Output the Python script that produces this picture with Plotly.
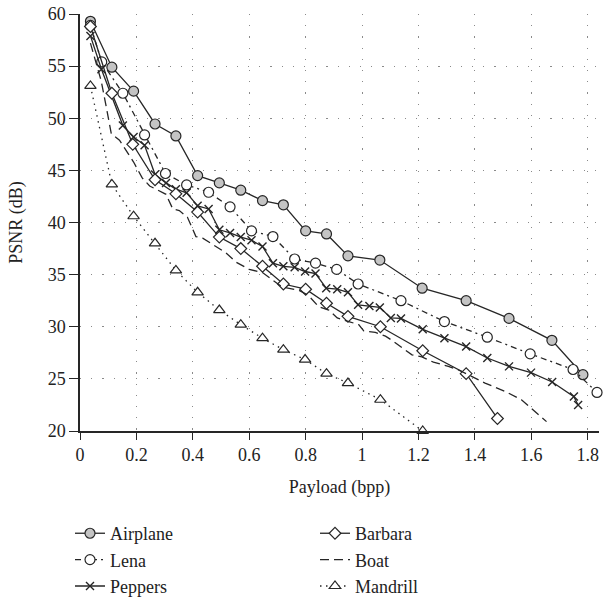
import plotly.graph_objects as go

# ---- data ----
airplane_x = [0.037, 0.113, 0.19, 0.266, 0.34, 0.417, 0.494, 0.57, 0.647, 0.721, 0.80, 0.874, 0.95, 1.063, 1.213, 1.369, 1.521, 1.673, 1.783]
airplane_y = [59.3, 54.9, 52.6, 49.45, 48.3, 44.5, 43.8, 43.1, 42.1, 41.7, 39.2, 38.9, 36.8, 36.4, 33.7, 32.5, 30.8, 28.7, 25.4]

lena_x = [0.037, 0.077, 0.152, 0.229, 0.303, 0.378, 0.456, 0.532, 0.608, 0.684, 0.761, 0.835, 0.91, 0.986, 1.138, 1.292, 1.444, 1.596, 1.748, 1.833]
lena_y = [58.9, 55.4, 52.4, 48.4, 44.7, 43.6, 42.9, 41.5, 39.2, 38.65, 36.5, 36.1, 35.5, 34.1, 32.5, 30.5, 29.0, 27.4, 25.9, 23.7]

peppers_x = [0.037, 0.076, 0.152, 0.19, 0.229, 0.266, 0.305, 0.34, 0.378, 0.417, 0.456, 0.494, 0.532, 0.57, 0.608, 0.647,
             0.684, 0.721, 0.761, 0.798, 0.835, 0.873, 0.912, 0.95, 0.986, 1.026, 1.063, 1.102, 1.138, 1.215, 1.292,
             1.369, 1.444, 1.521, 1.599, 1.674, 1.751, 1.766]
peppers_y = [57.9, 54.7, 49.3, 48.2, 47.4, 44.6, 43.8, 43.2, 42.85, 41.6, 41.3, 39.3, 39.0, 38.6, 38.3, 37.7,
             36.1, 35.8, 35.7, 35.3, 35.1, 33.7, 33.6, 33.3, 32.1, 32.0, 31.85, 30.85, 30.8, 29.75, 28.9,
             28.1, 27.0, 26.2, 25.6, 24.7, 23.3, 22.5]

barbara_x = [0.037, 0.113, 0.187, 0.266, 0.34, 0.417, 0.494, 0.57, 0.647, 0.721, 0.80, 0.874, 0.95, 1.065, 1.215, 1.369, 1.48]
barbara_y = [58.8, 52.4, 47.5, 44.1, 42.75, 41.0, 38.6, 37.5, 35.8, 34.1, 33.6, 32.25, 31.0, 30.0, 27.7, 25.5, 21.2]

boat_x = [0.037, 0.075, 0.093, 0.111, 0.14, 0.19, 0.22, 0.247, 0.305, 0.329, 0.352, 0.381, 0.411, 0.435, 0.517, 0.553,
          0.60, 0.647, 0.717, 0.776, 0.81, 0.847, 0.882, 0.912, 0.953, 0.988, 1.006, 1.047, 1.083, 1.106, 1.141,
          1.177, 1.212, 1.253, 1.306, 1.342, 1.436, 1.507, 1.565, 1.613, 1.654]
boat_y = [57.2, 53.6, 51.1, 48.5, 47.9, 45.8, 44.3, 43.5, 42.7, 41.3, 41.15, 40.5, 38.65, 38.5, 37.1, 36.2,
          35.5, 35.2, 33.8, 33.5, 33.0, 31.9, 31.6, 30.85, 30.5, 30.2, 29.6, 29.45, 29.1, 28.7, 28.0,
          27.3, 27.1, 26.6, 26.2, 25.85, 24.6, 23.8, 23.0, 21.9, 20.9]

mandrill_x = [0.037, 0.113, 0.19, 0.266, 0.34, 0.417, 0.494, 0.57, 0.647, 0.721, 0.798, 0.874, 0.95, 1.065, 1.215]
mandrill_y = [53.1, 43.65, 40.6, 38.0, 35.4, 33.3, 31.6, 30.2, 28.9, 27.8, 26.85, 25.5, 24.6, 23.0, 20.0]

x_ticks = [0, 0.2, 0.4, 0.6, 0.8, 1, 1.2, 1.4, 1.6, 1.8]
x_tick_text = ["0", "0.2", "0.4", "0.6", "0.8", "1", "1.2", "1.4", "1.6", "1.8"]
y_ticks = [20, 25, 30, 35, 40, 45, 50, 55, 60]

FONT = "Liberation Serif"
FS = 18
LC = "#262626"

fig = go.Figure()

def add(name, x, y, dash, symbol, fill, size, legend, mlw=1.2):
    fig.add_trace(go.Scatter(
        x=x, y=y, name=name, mode="lines+markers" if symbol else "lines",
        line=dict(color=LC, width=1.3, dash=dash),
        marker=dict(symbol=symbol or "circle", size=size, color=fill,
                    line=dict(color=LC, width=mlw)),
        legend=legend, showlegend=True, cliponaxis=False))

add("Airplane", airplane_x, airplane_y, "solid", "circle", "#c4c4c4", 10, "legend")
add("Lena", lena_x, lena_y, "6px,4px,2px,4px", "circle", "white", 10, "legend2")
add("Peppers", peppers_x, peppers_y, "solid", "x-thin", LC, 8, "legend3", 1.4)
add("Barbara", barbara_x, barbara_y, "solid", "diamond", "white", 9, "legend4")
add("Boat", boat_x, boat_y, "9px,5px", None, LC, 6, "legend5")
add("Mandrill", mandrill_x, mandrill_y, "1.5px,4.5px", "triangle-up", "white", 10, "legend6")

W, H = 603, 609
L, R, T, B = 80, 4, 12, 170
pw, ph = W - L - R, H - T - B

def px_to_paper(xp, yp):
    return (xp - L) / pw, (H - B - yp) / ph

legend_pos = {
    "legend": (70, 544), "legend2": (70, 571), "legend3": (70, 598),
    "legend4": (315, 544), "legend5": (315, 571), "legend6": (315, 598),
}
leg_layout = {}
for k, (xp, yp) in legend_pos.items():
    xx, yy = px_to_paper(xp, yp)
    leg_layout[k] = dict(x=xx, y=yy, xanchor="left", yanchor="middle", visible=True,
                         bgcolor="rgba(0,0,0,0)", font=dict(family=FONT, size=FS, color="#222"),
                         itemwidth=30)

grid = dict(showgrid=True, gridcolor="#8a8a8a", griddash="1.2px,10px", gridwidth=1.2)

fig.update_layout(
    width=W, height=H, margin=dict(l=L, r=R, t=T, b=B),
    paper_bgcolor="white", plot_bgcolor="white", showlegend=True,
    font=dict(family=FONT, size=FS, color="#222"),
    xaxis=dict(range=[0, 1.84], tickvals=x_ticks, ticktext=x_tick_text, ticks="outside", ticklen=7,
               tickcolor=LC, showline=True, linecolor=LC, linewidth=1.5, zeroline=False,
               tickfont=dict(family=FONT, size=FS), ticklabeloverflow="allow",
               title=dict(text="Payload (bpp)", standoff=16, font=dict(family=FONT, size=FS)), **grid),
    yaxis=dict(range=[20, 60], tickvals=y_ticks, ticks="outside", ticklen=9, tickcolor=LC,
               showline=True, linecolor=LC, linewidth=1.5, zeroline=False,
               tickfont=dict(family=FONT, size=FS),
               title=dict(text="PSNR (dB)", standoff=20, font=dict(family=FONT, size=FS)), **grid),
    **leg_layout,
)

fig.write_html("out.html", config={"displayModeBar": False},
               post_script="document.body.style.margin='0';document.body.style.overflow='hidden';")
